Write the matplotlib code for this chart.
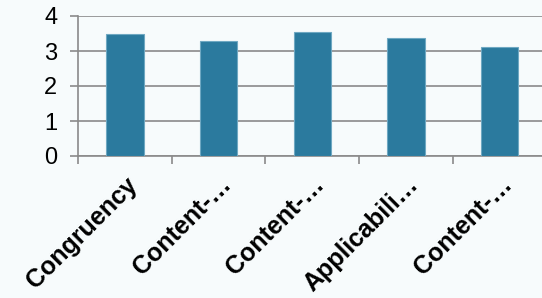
import matplotlib
matplotlib.use("Agg")
import matplotlib.pyplot as plt
import numpy as np

categories = ["Congruency", "Content-…", "Content-…", "Applicabili…", "Content-…"]
values = [3.49, 3.29, 3.55, 3.37, 3.11]
yticks = [0, 1, 2, 3, 4]

plt.rcParams['font.family'] = ['Liberation Sans', 'DejaVu Sans']
bg = '#F7FBFC'
fig = plt.figure(figsize=(5.42, 2.98), dpi=100, facecolor=bg)
ax = fig.add_axes([78/542, 142/298, 468.5/542, 140/298], facecolor=bg)

x = np.arange(len(categories))
ax.bar(x, values, width=0.4, color='#2B7A9E', edgecolor='#6FA8C2', linewidth=0.8, zorder=3)

ax.set_xlim(-0.5, len(categories) - 0.5)
ax.set_ylim(0, 4)
ax.set_yticks(yticks)
ax.set_yticklabels([str(t) for t in yticks], fontsize=17)
ax.yaxis.grid(True, color='#8A8A8A', linewidth=1.2, zorder=1)
ax.tick_params(axis='y', length=6, width=1.2, color='#8A8A8A', pad=9)

ax.set_xticks(x)
ax.set_xticklabels(categories, rotation=45, ha='right', rotation_mode='anchor',
                   fontsize=18, fontweight='bold')
ax.set_xticks(np.arange(-0.5, len(categories)), minor=True)
ax.tick_params(axis='x', which='major', length=0, pad=12)
ax.tick_params(axis='x', which='minor', length=6, width=1.2, color='#8A8A8A')

for s in ['top', 'right']:
    ax.spines[s].set_visible(False)
for s in ['left', 'bottom']:
    ax.spines[s].set_color('#8A8A8A')
    ax.spines[s].set_linewidth(1.2)

fig.savefig('out.png', dpi=100, facecolor=bg)
